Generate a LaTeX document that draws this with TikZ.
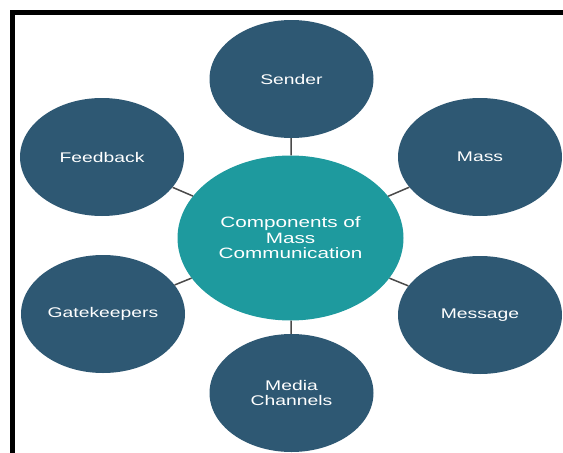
\documentclass[tikz,border=0pt]{standalone}
\usepackage{fontspec}
\newfontfamily\bubblefont[FakeStretch=1.38]{Liberation Sans}
\usetikzlibrary{shapes}

\definecolor{slateblue}{HTML}{2E5873}
\definecolor{tealhub}{HTML}{1E9A9E}
\definecolor{spoke}{HTML}{4A4A4A}

\begin{document}
\begin{tikzpicture}[x=1pt,y=1pt]
        \useasboundingbox (0,0) rectangle (563,-453);
        \tikzstyle{every path}=[line join=miter]

        \tikzstyle{part}=[ellipse,fill=slateblue,text=white,inner sep=0pt,
            minimum width=164pt,minimum height=118pt,align=center,
            font=\bubblefont\fontsize{14}{15}\selectfont]
        \tikzstyle{hub}=[ellipse,fill=tealhub,text=white,inner sep=0pt,
            minimum width=226pt,minimum height=165pt,align=center,
            font=\bubblefont\fontsize{15}{15.5}\selectfont]
        \tikzstyle{link}=[draw=spoke,line width=1.5pt]

        % frame, open on the right and at the bottom
        \draw[line width=5pt] (12.5,-453) -- (12.5,-12) -- (563,-12);

        \node [hub]  (comp)     at (290.5,-238) {Components of\\Mass\\Communication};
        \node [part] (sender)   at (291.5,-79)  {Sender};
        \node [part] (mass)     at (480,-157)   {Mass};
        \node [part] (message)  at (480,-315)   {Message};
        \node [part] (media)    at (291.5,-393) {Media\\Channels};
        \node [part] (gate)     at (103,-314)   {Gatekeepers};
        \node [part] (feedback) at (102,-157)   {Feedback};

        \foreach \x in {sender, mass, message, media, gate, feedback} {
            \draw[link] (comp) -- (\x);
        };

        \end{tikzpicture}
\end{document}
